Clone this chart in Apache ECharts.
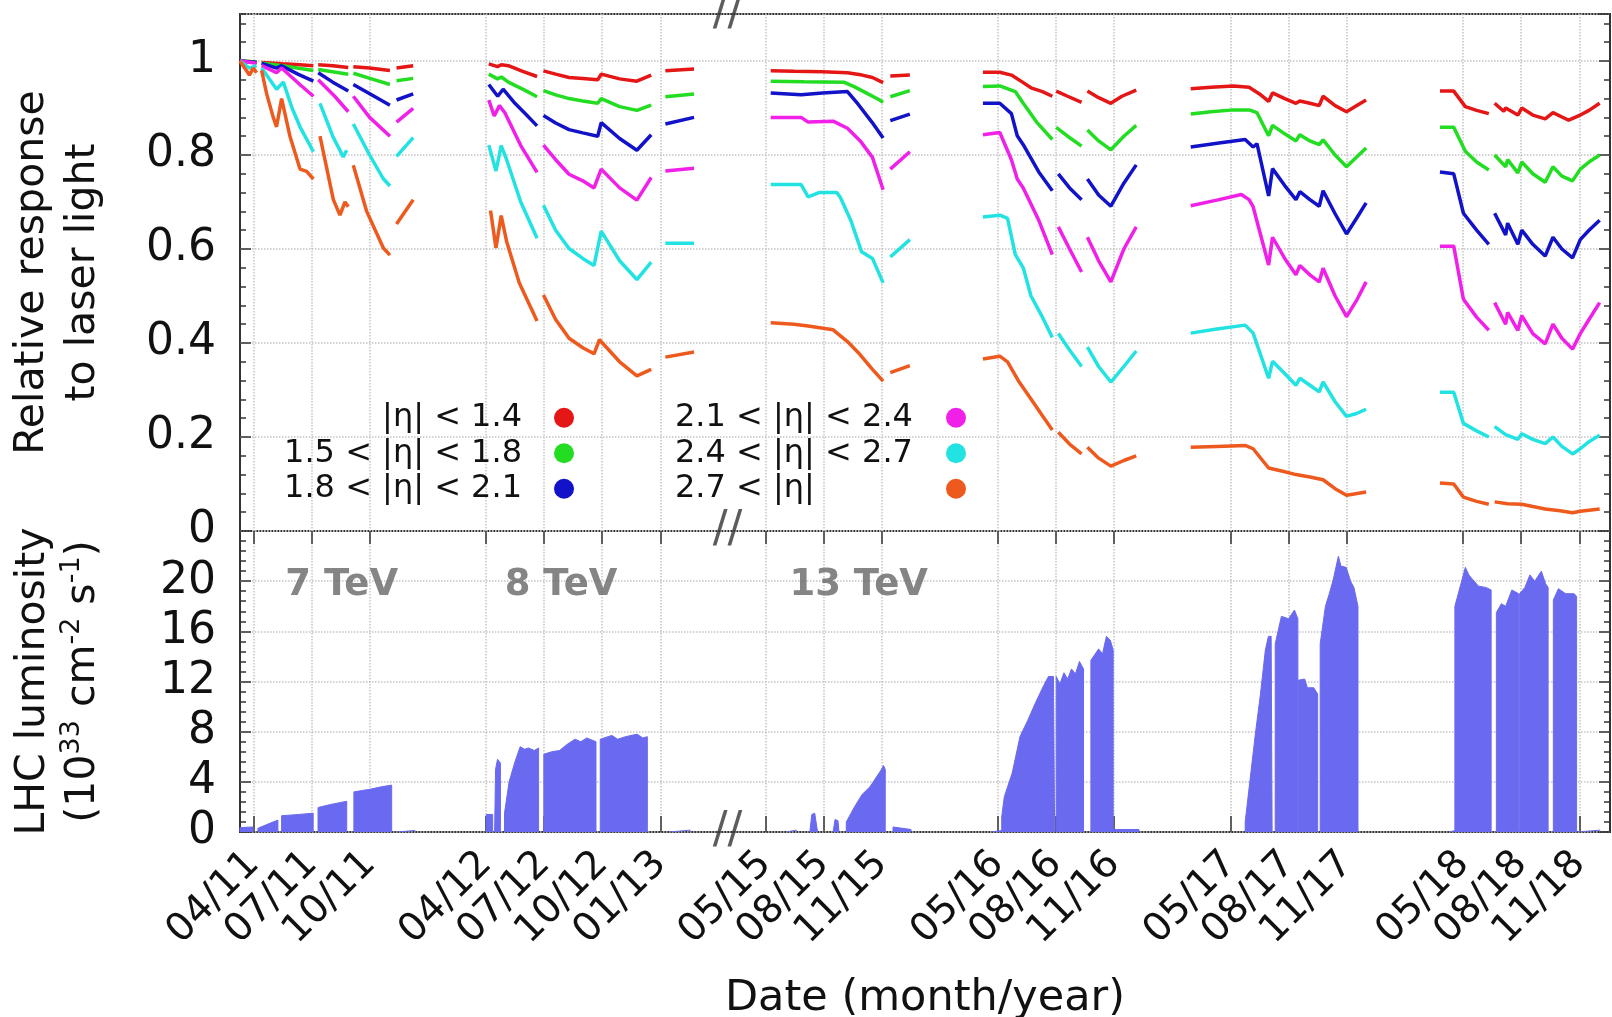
<!DOCTYPE html>
<html><head><meta charset="utf-8">
<script src="https://cdn.jsdelivr.net/npm/echarts@6/dist/echarts.min.js"></script>
<style>html,body{margin:0;padding:0;background:#fff}#c{width:1612px;height:1017px}</style>
</head><body><div id="c"></div>
<script>
// x values are months since Jan 2011 (04/11 = 3, 05/15 = 52 ...)
const tickMonths = [3,6,9,15,18,21,24,52,55,58,64,67,70,76,79,82,88,91,94];
const tickLabels = ['04/11','07/11','10/11','04/12','07/12','10/12','01/13','05/15','08/15','11/15','05/16','08/16','11/16','05/17','08/17','11/17','05/18','08/18','11/18'];
const etaNames = ['|η| < 1.4','1.5 < |η| < 1.8','1.8 < |η| < 2.1','2.1 < |η| < 2.4','2.4 < |η| < 2.7','2.7 < |η|'];
const etaColors = ['#e41616','#22dd22','#1212c8','#f020e8','#22e2e2','#ee5a1e'];
const energyLabels = [[7.56,19.66,'7 TeV'],[18.88,19.66,'8 TeV'],[56.82,19.66,'13 TeV']];

const red = [[2.31,1.0],[3.17,0.998],null,[3.43,0.997],[4.5,0.994],[5.4,0.992],[6.10,0.99],null,[6.35,0.992],[7.1,0.99],[7.90,0.986],null,[8.16,0.988],[9.0,0.985],[10.05,0.98],null,[10.39,0.985],[11.25,0.99],null,
[15.15,0.994],[15.6,0.988],[15.8,0.992],[16.16,0.99],[16.9,0.978],[17.64,0.967],null,[17.97,0.979],[18.6,0.972],[19.29,0.965],[20.0,0.963],[20.77,0.96],[20.95,0.972],[21.9,0.962],[22.79,0.957],[23.53,0.97],null,[24.26,0.979],[25.74,0.983],null,
[52.28,0.979],[53.5,0.978],[54.95,0.977],[56.24,0.975],[57.0,0.97],[57.53,0.965],[58.08,0.954],null,[58.45,0.968],[59.46,0.97],null,
[63.23,0.976],[64.10,0.976],[64.70,0.97],[65.31,0.954],[65.71,0.943],[66.3,0.935],[66.81,0.925],null,[67.01,0.936],[67.6,0.925],[68.32,0.912],null,[68.62,0.936],[69.2,0.922],[69.83,0.91],[70.4,0.925],[71.14,0.938],null,
[73.95,0.941],[75.0,0.944],[76.16,0.947],[76.96,0.944],[77.5,0.93],[77.97,0.914],[78.17,0.932],[78.8,0.92],[79.38,0.91],[79.58,0.915],[80.1,0.91],[80.58,0.905],[80.78,0.925],[81.4,0.905],[81.99,0.892],[82.5,0.905],[83.0,0.917],null,
[86.81,0.936],[87.52,0.936],[88.12,0.903],[88.7,0.895],[89.33,0.888],null,[89.63,0.91],[90.1,0.893],[90.2,0.9],[90.83,0.885],[91.03,0.9],[91.6,0.885],[92.24,0.877],[92.64,0.89],[93.45,0.874],[94.05,0.885],[94.5,0.895],[95.05,0.91]];

const green = [[2.31,1.0],[3.17,0.998],null,[3.43,0.995],[4.5,0.99],[6.10,0.98],null,[6.35,0.982],[7.90,0.972],null,[8.16,0.974],[9.1,0.962],[10.05,0.95],null,[10.39,0.958],[11.25,0.963],null,
[15.15,0.972],[15.6,0.962],[15.8,0.966],[16.16,0.955],[17.0,0.938],[17.64,0.924],null,[17.97,0.937],[18.6,0.928],[19.29,0.92],[20.0,0.915],[20.77,0.91],[20.95,0.92],[21.9,0.903],[22.79,0.895],[23.53,0.906],null,[24.26,0.924],[25.74,0.93],null,
[52.28,0.957],[54.0,0.956],[56.05,0.955],[56.61,0.945],[57.3,0.93],[57.90,0.917],[58.08,0.912],null,[58.45,0.924],[59.46,0.937],null,
[63.23,0.946],[64.10,0.947],[64.90,0.935],[65.31,0.91],[66.0,0.87],[66.81,0.833],null,[67.01,0.859],[67.6,0.84],[68.32,0.819],null,[68.62,0.853],[69.2,0.83],[69.83,0.811],[70.5,0.84],[71.14,0.863],null,
[73.95,0.887],[75.0,0.892],[76.16,0.896],[76.96,0.896],[77.37,0.89],[77.97,0.841],[78.17,0.863],[78.8,0.845],[79.38,0.83],[79.58,0.843],[80.1,0.83],[80.58,0.822],[80.78,0.832],[81.4,0.8],[81.99,0.775],[82.5,0.795],[83.0,0.815],null,
[86.81,0.859],[87.52,0.859],[88.12,0.808],[88.7,0.785],[89.33,0.768],null,[89.63,0.8],[90.2,0.775],[90.3,0.79],[90.83,0.762],[91.03,0.785],[91.6,0.76],[92.24,0.742],[92.64,0.775],[93.1,0.755],[93.65,0.745],[94.05,0.77],[94.5,0.785],[95.05,0.8]];

const blue = [[2.31,1.0],[3.17,0.997],null,[3.43,0.995],[4.2,0.985],[4.46,0.99],[5.3,0.972],[6.10,0.957],null,[6.35,0.975],[7.1,0.955],[7.90,0.936],null,[8.16,0.95],[9.1,0.928],[10.05,0.906],null,[10.39,0.917],[11.25,0.93],null,
[15.15,0.95],[15.61,0.925],[15.89,0.94],[16.5,0.91],[17.1,0.885],[17.64,0.862],null,[17.97,0.884],[18.6,0.868],[19.29,0.854],[20.0,0.847],[20.77,0.84],[20.95,0.869],[21.9,0.835],[22.79,0.81],[23.53,0.843],null,[24.26,0.866],[25.74,0.88],null,
[52.28,0.932],[53.85,0.928],[54.95,0.932],[56.24,0.935],[56.79,0.908],[57.5,0.87],[58.08,0.836],null,[58.45,0.873],[59.46,0.887],null,
[63.23,0.91],[64.10,0.91],[64.70,0.888],[65.0,0.841],[65.31,0.822],[66.11,0.764],[66.81,0.724],null,[67.12,0.76],[67.7,0.73],[68.32,0.705],null,[68.62,0.749],[69.2,0.715],[69.83,0.691],[70.5,0.74],[71.14,0.779],null,
[73.95,0.817],[75.5,0.826],[76.76,0.833],[77.17,0.817],[77.37,0.824],[77.97,0.713],[78.17,0.771],[78.8,0.735],[79.38,0.705],[79.58,0.722],[80.1,0.705],[80.58,0.691],[80.78,0.724],[81.4,0.675],[81.99,0.632],[82.5,0.665],[83.0,0.698],null,
[86.81,0.764],[87.52,0.76],[88.02,0.676],[88.7,0.64],[89.33,0.61],null,[89.63,0.676],[90.2,0.63],[90.3,0.655],[90.83,0.61],[91.03,0.64],[91.6,0.61],[92.24,0.585],[92.64,0.625],[93.1,0.6],[93.65,0.581],[94.05,0.62],[94.5,0.64],[95.05,0.661]];

const magenta = [[2.31,1.0],[3.17,0.995],null,[3.43,0.99],[4.2,0.975],[4.46,0.985],[5.4,0.95],[6.10,0.925],null,[6.35,0.96],[7.2,0.925],[7.90,0.892],null,[8.16,0.925],[9.0,0.88],[10.05,0.84],null,[10.39,0.87],[11.25,0.899],null,
[15.15,0.917],[15.43,0.883],[15.70,0.905],[15.98,0.89],[16.8,0.82],[17.64,0.763],null,[17.97,0.821],[18.6,0.79],[19.29,0.759],[20.0,0.745],[20.58,0.73],[20.95,0.77],[21.9,0.73],[22.79,0.704],[23.53,0.752],null,[24.26,0.766],[25.74,0.772],null,
[52.28,0.88],[53.85,0.88],[54.21,0.87],[55.50,0.872],[56.24,0.857],[56.9,0.83],[57.53,0.795],[58.08,0.726],null,[58.45,0.77],[59.46,0.807],null,
[63.23,0.843],[64.10,0.848],[64.70,0.79],[65.0,0.749],[65.31,0.73],[66.11,0.661],[66.81,0.588],null,[67.12,0.647],[67.7,0.6],[68.32,0.551],null,[68.62,0.625],[69.2,0.575],[69.83,0.53],[70.5,0.6],[71.14,0.647],null,
[73.95,0.692],[75.3,0.704],[76.56,0.716],[76.96,0.705],[77.17,0.69],[77.97,0.566],[78.17,0.625],[78.8,0.58],[79.38,0.545],[79.58,0.565],[80.1,0.545],[80.58,0.53],[80.78,0.559],[81.4,0.5],[81.99,0.456],[82.5,0.49],[83.0,0.53],null,
[86.81,0.606],[87.52,0.606],[88.02,0.493],[88.7,0.455],[89.33,0.427],null,[89.63,0.486],[90.2,0.44],[90.3,0.465],[90.83,0.427],[91.03,0.458],[91.6,0.42],[92.24,0.398],[92.64,0.44],[93.1,0.41],[93.65,0.387],[94.05,0.42],[94.5,0.45],[95.05,0.486]];

const cyan = [[2.31,1.0],[2.8,0.985],[3.17,0.99],null,[3.43,0.985],[4.2,0.94],[4.55,0.955],[5.0,0.9],[5.41,0.86],[5.8,0.83],[6.10,0.807],null,[6.44,0.91],[7.1,0.84],[7.64,0.796],[7.82,0.81],null,[8.16,0.866],[9.0,0.8],[9.7,0.75],[10.05,0.734],null,[10.39,0.797],[11.25,0.837],null,
[15.15,0.821],[15.52,0.766],[15.79,0.82],[16.07,0.79],[16.8,0.7],[17.64,0.623],null,[17.97,0.693],[18.6,0.64],[19.29,0.601],[20.0,0.58],[20.58,0.565],[20.95,0.638],[21.9,0.575],[22.79,0.535],[23.53,0.572],null,[24.26,0.612],[25.74,0.612],null,
[52.28,0.737],[53.85,0.737],[54.21,0.711],[54.77,0.72],[55.69,0.72],[55.87,0.71],[56.42,0.66],[56.97,0.594],[57.53,0.58],[58.08,0.528],null,[58.45,0.583],[59.46,0.62],null,
[63.23,0.668],[64.10,0.672],[64.50,0.665],[64.90,0.588],[65.31,0.56],[65.71,0.5],[66.3,0.455],[66.81,0.412],null,[67.12,0.42],[67.7,0.385],[68.32,0.35],null,[68.62,0.391],[69.2,0.35],[69.83,0.317],[70.5,0.35],[71.14,0.383],null,
[73.95,0.421],[75.3,0.43],[76.76,0.438],[77.17,0.421],[77.97,0.325],[78.17,0.361],[78.8,0.335],[79.38,0.31],[79.58,0.325],[80.1,0.31],[80.58,0.296],[80.78,0.317],[81.4,0.275],[81.99,0.244],[82.5,0.25],[83.0,0.259],null,
[86.81,0.295],[87.52,0.295],[88.02,0.229],[88.7,0.213],[89.33,0.2],null,[89.63,0.222],[90.2,0.205],[90.83,0.195],[91.03,0.207],[91.6,0.195],[92.24,0.186],[92.64,0.2],[93.1,0.18],[93.65,0.164],[94.05,0.175],[94.5,0.19],[95.05,0.204]];

const orange = [[2.31,1.0],[2.8,0.97],[3.0,0.985],[3.17,0.975],null,[3.43,0.98],[3.69,0.93],[4.03,0.88],[4.20,0.86],[4.46,0.92],[4.89,0.84],[5.41,0.77],[5.75,0.765],[6.10,0.749],null,[6.44,0.84],[7.13,0.705],[7.47,0.672],[7.73,0.70],[7.90,0.69],null,[8.16,0.778],[8.85,0.68],[9.71,0.602],[10.05,0.587],null,[10.39,0.653],[11.25,0.705],null,
[15.24,0.682],[15.52,0.602],[15.79,0.671],[16.07,0.616],[16.72,0.528],[17.64,0.447],null,[17.97,0.502],[18.6,0.45],[19.29,0.41],[20.0,0.39],[20.58,0.377],[20.86,0.407],[21.9,0.36],[22.79,0.33],[23.53,0.344],null,[24.26,0.37],[25.74,0.381],null,
[52.28,0.443],[53.48,0.44],[54.21,0.436],[55.50,0.428],[56.24,0.403],[56.79,0.38],[57.53,0.344],[58.08,0.319],null,[58.45,0.337],[59.46,0.352],null,
[63.23,0.366],[64.10,0.372],[64.50,0.36],[65.1,0.317],[65.71,0.281],[66.3,0.245],[66.81,0.215],null,[67.12,0.21],[67.7,0.185],[68.32,0.164],null,[68.62,0.178],[69.2,0.155],[69.83,0.138],[70.5,0.15],[71.14,0.16],null,
[73.95,0.178],[75.3,0.18],[76.76,0.182],[77.17,0.175],[77.97,0.134],[78.7,0.127],[79.38,0.12],[80.1,0.115],[80.78,0.109],[81.4,0.09],[81.99,0.076],[83.0,0.083],null,
[86.81,0.102],[87.52,0.1],[88.02,0.072],[88.7,0.063],[89.33,0.057],null,[89.63,0.062],[90.3,0.058],[91.03,0.057],[91.6,0.052],[92.24,0.047],[93.0,0.043],[93.65,0.039],[94.05,0.042],[95.05,0.047]];

// LHC instantaneous luminosity (1e33 cm^-2 s^-1), block outlines
const lumi = [[2.31,0],[2.31,0.35],[2.98,0.4],[2.98,0],null,
[3.24,0],[3.24,0.3],[3.7,0.6],[4.27,0.95],[4.27,0],null,
[4.46,0],[4.46,1.3],[5.2,1.38],[6.09,1.5],[6.09,0],null,
[6.34,0],[6.34,1.95],[7.0,2.2],[7.82,2.45],[7.82,0],null,
[8.19,0],[8.19,3.2],[9.0,3.4],[9.6,3.6],[10.14,3.74],[10.14,0],null,
[10.4,0],[10.4,0.12],[11.34,0.12],[11.34,0],null,
[15.02,0],[15.02,1.4],[15.35,1.4],[15.35,0],null,
[15.45,0],[15.5,5.0],[15.6,5.8],[15.75,5.5],[15.75,0],null,
[15.96,0],[15.96,1.5],[16.2,4.0],[16.5,5.6],[16.77,6.8],[17.0,6.6],[17.2,6.7],[17.5,6.5],[17.72,6.7],[17.72,0],null,
[17.99,0],[17.99,6.2],[18.4,6.4],[18.8,6.5],[19.2,7.0],[19.6,7.4],[19.9,7.2],[20.2,7.5],[20.68,7.2],[20.68,0],null,
[20.9,0],[20.9,7.4],[21.5,7.7],[21.8,7.4],[22.2,7.6],[22.8,7.8],[23.1,7.5],[23.33,7.6],[23.33,0],null,
[24.46,0],[24.46,0.15],[25.54,0.15],[25.54,0],null,
[53.08,0],[53.08,0.15],[53.6,0.15],[53.6,0],null,
[54.3,0],[54.4,1.4],[54.55,1.5],[54.7,0],null,
[55.5,0],[55.6,1.0],[55.75,0.9],[55.8,0],null,
[56.18,0],[56.18,0.8],[56.6,2.0],[57.0,3.0],[57.4,3.6],[57.7,4.3],[58.0,5.0],[58.1,5.3],[58.19,5.0],[58.19,0],null,
[58.59,0],[58.59,0.4],[59.52,0.2],[59.52,0],null,
[63.67,0],[63.67,0.12],[64.2,0.12],[64.2,1.2],[64.33,2.8],[64.74,4.7],[65.14,7.6],[65.54,8.9],[65.94,10.3],[66.34,11.6],[66.61,12.4],[66.87,12.4],[66.93,0],null,
[67.01,0],[67.01,12.4],[67.2,11.8],[67.41,12.7],[67.6,12.2],[67.8,13.0],[68.0,12.6],[68.21,13.6],[68.42,13.0],[68.42,0],null,
[68.8,0],[68.8,13.7],[69.2,14.6],[69.4,14.2],[69.6,15.6],[69.8,15.3],[69.95,14.5],[69.95,0],null,
[69.97,0],[69.97,0.2],[71.28,0.2],[71.28,0],null,
[76.76,0],[76.76,0.8],[77.0,4.0],[77.3,8.0],[77.55,11.0],[77.8,14.5],[77.96,15.6],[78.1,15.6],[78.15,0],null,
[78.31,0],[78.31,15.0],[78.63,17.2],[79.0,17.0],[79.3,17.7],[79.48,17.0],[79.48,0],null,
[79.5,0],[79.5,12.1],[79.83,12.2],[79.97,11.5],[80.3,11.5],[80.5,11.0],[80.5,0],null,
[80.63,0],[80.63,15.0],[80.9,18.0],[81.1,19.0],[81.3,20.1],[81.57,22.0],[81.7,21.2],[81.97,21.1],[82.2,20.0],[82.37,19.5],[82.58,18.0],[82.58,0],null,
[87.31,0],[87.31,0.12],[87.58,0.12],[87.58,18.0],[88.12,21.1],[88.3,20.5],[88.52,20.1],[88.8,19.6],[89.18,19.5],[89.45,19.3],[89.45,0],null,
[89.72,0],[89.72,17.5],[89.98,18.2],[90.2,18.0],[90.52,19.3],[90.87,19.0],[90.87,0],null,
[90.92,0],[90.92,19.0],[91.19,19.5],[91.45,20.5],[91.7,20.0],[92.04,20.8],[92.26,19.8],[92.39,19.5],[92.39,0],null,
[92.66,0],[92.66,18.5],[92.92,19.4],[93.3,19.0],[93.73,19.0],[93.86,18.8],[93.86,0],null,
[93.9,0],[93.9,0.15],[95.06,0.15],[95.06,0]];

// ---- axis break (2013-04 .. 2015-03 removed) ----
const BREAK_AT = 27.47;          // month where the '//' is drawn
const BREAK_SHIFT = 22.585;      // months removed by the break
const X_MIN = 2.314, X_MAX = 72.998;   // in compressed months
function cx(m){ return m < 40 ? m : m - BREAK_SHIFT; }
function toData(arr){ const out=[]; let last=X_MIN; for(const p of arr){ if(p===null){ out.push([last,null]); } else { last=cx(p[0]); out.push([last,p[1]]); } } return out; }
const tickPos = tickMonths.map(cx);
const evenPos = tickPos.filter((p,i)=>i%2===0);
const oddPos = tickPos.filter((p,i)=>i%2===1);
function labelFor(v){ let b=0,d=1e9; tickPos.forEach((p,i)=>{const dd=Math.abs(p-v); if(dd<d){d=dd;b=i;}}); return tickLabels[b]; }

const FONT = 'DejaVu Sans';
const GRIDC = '#c4c4c4';
const AXC = '#333';
const etaData = [red, green, blue, magenta, cyan, orange];
const xLabelStyle = {show:true, rotate:45, margin:26, fontSize:39, lineHeight:28, fontFamily:FONT, color:'#111',
  formatter:labelFor, hideOverlap:false, showMinLabel:true, showMaxLabel:true};

function yAx(grid, pos, min, max, interval, len, main, extra){
  return Object.assign({
    gridIndex: grid, type:'value', position: pos, min, max, interval,
    axisLine:{show:false},
    axisTick:{show:true, inside:true, length:len, lineStyle:{color:AXC, width:1.5}},
    axisLabel:{show: main && pos==='left', showMaxLabel:false, showMinLabel:true, fontSize:44, fontFamily:FONT, color:'#111', margin:24},
    splitLine:{show: main && pos==='left', lineStyle:{color:GRIDC, type:'dotted', width:1.5}},
    nameMoveOverlap:false
  }, extra||{});
}

const chart = echarts.init(document.getElementById('c'), null, {renderer:'canvas'});
const series = etaData.map((d,i)=>({
  type:'line', name: etaNames[i], xAxisIndex:0, yAxisIndex:0, data: toData(d),
  color: etaColors[i], showSymbol:false, symbol:'none', connectNulls:false,
  lineStyle:{width:3.5, color: etaColors[i]}, emphasis:{disabled:true}, z:3
}));
series.push({
  type:'line', name:'lumi', xAxisIndex:1, yAxisIndex:4, data: toData(lumi),
  showSymbol:false, symbol:'none', connectNulls:false, color:'#6a6af0',
  lineStyle:{width:1, color:'#6a6af0'}, areaStyle:{color:'#6a6af0', opacity:1}, emphasis:{disabled:true}, z:3
});
series.push({
  type:'scatter', xAxisIndex:1, yAxisIndex:4, symbolSize:0, clip:false, silent:true,
  data: energyLabels.map(e=>[cx(e[0]), e[1], e[2]]),
  label:{show:true, position:'inside', formatter:p=>p.data[2], fontSize:37, fontWeight:'bold', color:'#666', fontFamily:FONT}
});
series.push({
  type:'scatter', xAxisIndex:0, yAxisIndex:0, symbolSize:0, clip:false, silent:true,
  data: [[BREAK_AT,1.1],[BREAK_AT,0]],
  label:{show:true, position:'inside', formatter:'//', fontSize:44, color:'#333', fontFamily:FONT}, z:10
});
series.push({
  type:'scatter', xAxisIndex:1, yAxisIndex:4, symbolSize:0, clip:false, silent:true,
  data: [[BREAK_AT,0]],
  label:{show:true, position:'inside', formatter:'//', fontSize:44, color:'#333', fontFamily:FONT}, z:10
});

const option = {
  animation:false,
  backgroundColor:'#fff',
  textStyle:{fontFamily:FONT},
  grid:[
    {left:240, right:2, top:14, height:517, show:true, borderColor:AXC, borderWidth:2, backgroundColor:'transparent', containLabel:false, outerBoundsMode:'none'},
    {left:240, right:2, top:531, height:301, show:true, borderColor:AXC, borderWidth:2, backgroundColor:'transparent', containLabel:false, outerBoundsMode:'none'}
  ],
  legend:[
    {data: etaNames.slice(0,3), orient:'vertical', align:'right', right:1612-574, top:400, padding:0, itemGap:0,
     icon:'circle', itemWidth:20, itemHeight:20, selectedMode:false,
     textStyle:{fontSize:32, lineHeight:35.5, color:'#111', fontFamily:FONT, padding:[0,27,0,0]}},
    {data: etaNames.slice(3), orient:'vertical', align:'right', right:1612-966, top:400, padding:0, itemGap:0,
     icon:'circle', itemWidth:20, itemHeight:20, selectedMode:false,
     formatter: n=>'{t|'+n+'}',
     textStyle:{fontSize:32, lineHeight:35.5, color:'#111', fontFamily:FONT,
       rich:{t:{width:266, align:'left', fontSize:32, lineHeight:35.5, color:'#111', fontFamily:FONT}}}}
  ],
  xAxis:[
    {gridIndex:0, type:'value', position:'top', min:X_MIN, max:X_MAX,
     axisLine:{show:false},
     axisTick:{show:true, inside:true, length:13, customValues:tickPos, lineStyle:{color:AXC, width:1.5}},
     axisLabel:{show:false},
     splitLine:{show:true, lineStyle:{color:GRIDC, type:'dotted', width:1.5}}},
    {gridIndex:1, type:'value', position:'bottom', min:X_MIN, max:X_MAX,
     axisLine:{show:false},
     axisTick:{show:true, inside:true, length:16, customValues:tickPos, lineStyle:{color:AXC, width:1.5}},
     axisLabel:Object.assign({customValues:evenPos}, xLabelStyle),
     splitLine:{show:true, lineStyle:{color:GRIDC, type:'dotted', width:1.5}},
     name:'Date (month/year)', nameLocation:'middle', nameGap:145, nameMoveOverlap:false,
     nameTextStyle:{fontSize:43, fontFamily:FONT, color:'#111'}},
    {gridIndex:1, type:'value', position:'bottom', offset:0, min:X_MIN, max:X_MAX,
     axisLine:{show:false}, axisTick:{show:false}, splitLine:{show:false},
     axisLabel:Object.assign({customValues:oddPos}, xLabelStyle)}
  ],
  yAxis:[
    yAx(0,'left',0,1.1,0.2,11,true,{name:'Relative response\nto laser light', nameLocation:'middle', nameGap:131, nameRotate:90,
        nameTextStyle:{fontSize:41, lineHeight:51, color:'#111', fontFamily:FONT}}),
    yAx(0,'left',0,1.1,0.04,6,false),
    yAx(0,'right',0,1.1,0.2,11,true),
    yAx(0,'right',0,1.1,0.04,6,false),
    yAx(1,'left',0,24,4,11,true,{name:'{a|LHC luminosity}\n{a|(10}{s|33}{a| cm}{s|-2}{a| s}{s|-1}{a|)}', nameLocation:'middle', nameGap:132, nameRotate:90,
        nameTextStyle:{fontSize:41, lineHeight:50, color:'#111', fontFamily:FONT,
          rich:{a:{fontSize:41, lineHeight:50, color:'#111', fontFamily:FONT}, s:{fontSize:27, lineHeight:27, verticalAlign:'top', color:'#111', fontFamily:FONT}}}}),
    yAx(1,'left',0,24,0.8,6,false),
    yAx(1,'right',0,24,4,11,true),
    yAx(1,'right',0,24,0.8,6,false)
  ],
  series
};
chart.setOption(option);
</script>
</body></html>
